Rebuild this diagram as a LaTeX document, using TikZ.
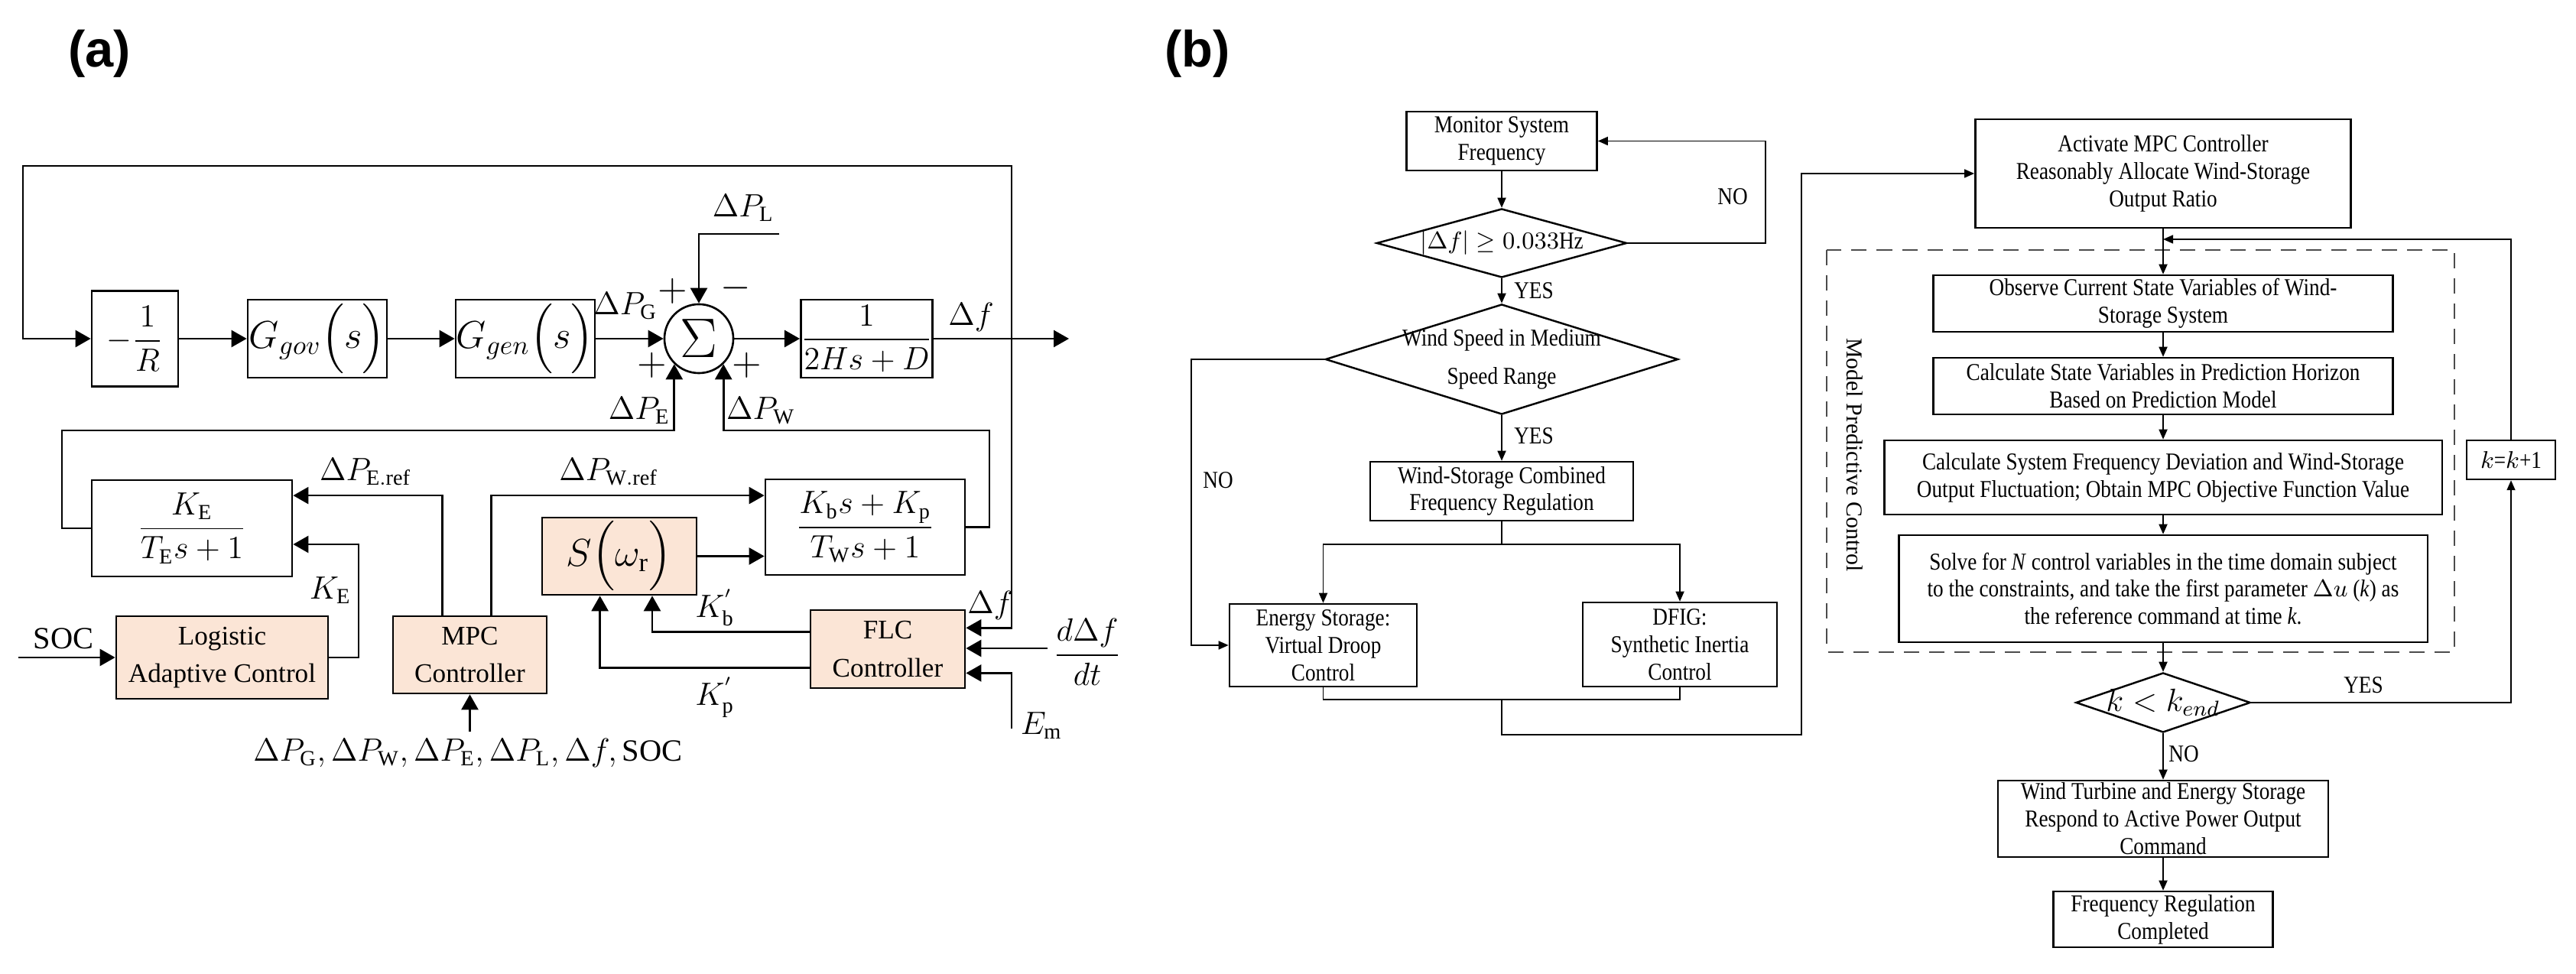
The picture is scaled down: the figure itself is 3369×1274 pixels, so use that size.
\documentclass[tikz,border=0pt]{standalone}
\usepackage{amsmath}
\usepackage{fontspec}
\setmainfont{Liberation Serif}
\newfontfamily\flowfont[FakeStretch=0.86]{Liberation Serif}
\newfontfamily\tagfont{Liberation Sans}
\usepackage{tikz}
\usetikzlibrary{arrows.meta,positioning,calc,shapes.geometric}
\definecolor{ctlfill}{HTML}{FBE5D6}

\begin{document}
\begin{tikzpicture}[x=0.01cm,y=-0.01cm,
  blk/.style={draw=black,line width=0.75pt,inner sep=0pt,align=center,font=\fontsize{12}{14}\selectfont},
  ctl/.style={blk,fill=ctlfill,font=\fontsize{10}{14}\selectfont},
  sig/.style={-{Triangle[length=2mm,width=2.2mm]},line width=0.75pt},
  lbl/.style={inner sep=0pt,font=\fontsize{11.5}{13}\selectfont},
  sgn/.style={inner sep=0pt,font=\fontsize{14}{16}\selectfont},
  tag/.style={inner sep=0pt,font=\tagfont\bfseries\fontsize{19}{22}\selectfont},
  ftxt/.style={inner sep=0pt,align=center,font=\flowfont\fontsize{9}{10.2}\selectfont},
  fbox/.style={ftxt,draw=black,line width=0.7pt},
  fdec/.style={draw=black,line width=0.7pt,diamond,inner sep=0pt},
  flow/.style={-{Triangle[length=1.3mm,width=1.1mm]},line width=0.5pt},
  fline/.style={line width=0.5pt},
  zone/.style={draw=black!70,line width=0.75pt,dash pattern=on 0.2cm off 0.13cm}]
\fill[white] (0,0) rectangle (3369,1274);
\useasboundingbox (0,0) rectangle (3369,1274);

\node[tag] (taga) at (130,70) {(a)};
\node[tag] (tagb) at (1566,70) {(b)};

% (a) load frequency loop
\node[blk,minimum width=1.13cm,minimum height=1.25cm] (droop) at (176.5,443) {$-\dfrac{1}{R}$};
\node[blk,minimum width=1.82cm,minimum height=1.02cm,font=\fontsize{14}{16}\selectfont] (gov) at (415,443) {$G_{gov}\Bigl(s\Bigr)$};
\node[blk,minimum width=1.82cm,minimum height=1.02cm,font=\fontsize{14}{16}\selectfont] (gen) at (687,443) {$G_{gen}\Bigl(s\Bigr)$};
\node[draw,circle,line width=0.75pt,minimum size=0.9cm,inner sep=0pt,font=\fontsize{20}{22}\selectfont] (sum) at (914,443) {$\Sigma$};
\node[blk,minimum width=1.65cm,minimum height=1.02cm] (plant) at (1133.5,443) {$\dfrac{1}{2Hs+D}$};
\coordinate (fout) at (1398,443);
\coordinate (ftap) at (1323,443);
\coordinate (ftop) at (30,217);
\coordinate (pload) at (1019,306);
\coordinate (ebus) at (81,563);
\coordinate (wbus) at (1294,563);

\node[blk,minimum width=2.62cm,minimum height=1.26cm] (ess) at (251,691) {$\dfrac{K_{\mathrm{E}}}{T_{\mathrm{E}}s+1}$};
\node[blk,minimum width=2.61cm,minimum height=1.25cm] (wtg) at (1131.5,689.5) {$\dfrac{K_{\mathrm{b}}s+K_{\mathrm{p}}}{T_{\mathrm{W}}s+1}$};
\node[ctl,minimum width=2.02cm,minimum height=1.01cm,font=\fontsize{14}{16}\selectfont] (swr) at (810,727.5) {$S\Bigl(\omega_{\mathrm{r}}\Bigr)$};
\node[ctl,minimum width=2.77cm,minimum height=1.08cm] (logi) at (290.5,860) {Logistic\\Adaptive Control};
\node[ctl,minimum width=2.01cm,minimum height=1.01cm] (mpc) at (614.5,856.5) {MPC\\Controller};
\node[ctl,minimum width=2.02cm,minimum height=1.02cm] (flc) at (1161,849) {FLC\\Controller};
\coordinate (socin) at (24,860);
\coordinate (kebend) at (469,712);
\coordinate (mpcin) at (614.5,957);
\coordinate (ddin) at (1370,848);
\coordinate (emin) at (1323,953);

\draw[sig] (droop.east) -- (gov.west);
\draw[sig] (gov.east) -- (gen.west);
\draw[sig] (gen.east) -- (sum.west);
\draw[sig] (sum.east) -- (plant.west);
\draw[sig] (plant.east) -- (fout);
\draw[sig] (ftap) |- (ftop) |- (droop.west);
\draw[sig] (ftap) |- ($(flc.north east)!0.235!(flc.south east)$);
\draw[sig] (pload) -| (sum.north);
\draw[sig] (ess.west) -| (ebus) -| (sum.226);
\draw[sig] (wtg.east) -| (wbus) -| (sum.314);
\draw[sig] (socin) -- (logi.west);
\draw[sig] (logi.east) -| (kebend) -- (kebend -| ess.east);
\draw[sig] ($(mpc.north west)!0.323!(mpc.north east)$) |- ($(ess.north east)!0.167!(ess.south east)$);
\draw[sig] ($(mpc.north west)!0.637!(mpc.north east)$) |- ($(wtg.north west)!0.176!(wtg.south west)$);
\draw[sig] (mpcin) -- (mpc.south);
\draw[sig] (swr.east) -- (swr.east -| wtg.west);
\draw[sig] ($(flc.north west)!0.284!(flc.south west)$) -| ($(swr.south west)!0.71!(swr.south east)$);
\draw[sig] ($(flc.north west)!0.735!(flc.south west)$) -| ($(swr.south west)!0.376!(swr.south east)$);
\draw[sig] (ddin) -- (ddin -| flc.east);
\draw[sig] (emin) |- ($(flc.north east)!0.8!(flc.south east)$);

\node[lbl] (lpg) at (818,400) {$\Delta P_{\mathrm{G}}$};
\node[lbl] (lpl) at (972,272) {$\Delta P_{\mathrm{L}}$};
\node[lbl] (lpe) at (836,537) {$\Delta P_{\mathrm{E}}$};
\node[lbl] (lpw) at (995,537) {$\Delta P_{\mathrm{W}}$};
\node[lbl] (ldf) at (1270,415) {$\Delta f$};
\node[lbl] (lper) at (478,617) {$\Delta P_{\mathrm{E.ref}}$};
\node[lbl] (lpwr) at (796,617) {$\Delta P_{\mathrm{W.ref}}$};
\node[lbl] (lke) at (432,772) {$K_{\mathrm{E}}$};
\node[lbl] (lsoc) at (83,835) {SOC};
\node[lbl] (lkb) at (935,795) {$K^{'}_{\mathrm{b}}$};
\node[lbl] (lkp) at (935,912) {$K^{'}_{\mathrm{p}}$};
\node[lbl] (ldf2) at (1295,792) {$\Delta f$};
\node[lbl] (ldd) at (1422,853) {$\dfrac{d\Delta f}{dt}$};
\node[lbl] (lem) at (1362,949) {$E_{\mathrm{m}}$};
\node[lbl] (lmpcin) at (612,985) {$\Delta P_{\mathrm{G}},\Delta P_{\mathrm{W}},\Delta P_{\mathrm{E}},\Delta P_{\mathrm{L}},\Delta f,\mathrm{SOC}$};
\node[sgn] (sg1) at (880,381) {$+$};
\node[sgn] (sg2) at (962,377) {$-$};
\node[sgn] (sg3) at (853,478) {$+$};
\node[sgn] (sg4) at (977,478) {$+$};

% (b) flow chart
\node[fbox,minimum width=2.49cm,minimum height=0.77cm] (monitor) at (1964,184.5) {Monitor System\\Frequency};
\node[fdec,minimum width=3.27cm,minimum height=0.9cm,label={[ftxt]center:{$\left|\Delta f\right|\geq 0.033$Hz}}] (dfcheck) at (1964,318) {};
\node[fdec,minimum width=4.61cm,minimum height=1.44cm,label={[ftxt]center:{Wind Speed in Medium\\[4pt]Speed Range}}] (speed) at (1964,470) {};
\node[fbox,minimum width=3.44cm,minimum height=0.77cm] (joint) at (1964,642.5) {Wind-Storage Combined\\Frequency Regulation};
\node[fbox,minimum width=2.45cm,minimum height=1.08cm] (droopctl) at (1730.5,844) {Energy Storage:\\Virtual Droop\\Control};
\node[fbox,minimum width=2.54cm,minimum height=1.1cm] (inertia) at (2197,843) {DFIG:\\Synthetic Inertia\\Control};
\coordinate (nobend) at (2309,184.5);
\coordinate (nobendl) at (1558,470);
\coordinate (split) at (1964,712);
\coordinate (merge) at (1964,915);
\coordinate (loop) at (2356,961);

\node[fbox,minimum width=4.91cm,minimum height=1.42cm] (activate) at (2829,227) {Activate MPC Controller\\Reasonably Allocate Wind-Storage\\Output Ratio};
\draw[zone] (2389,327) rectangle (3210,853);
\node[ftxt,rotate=-90] (mpclabel) at (2426,595) {\normalfont\fontsize{8.5}{10}\selectfont Model Predictive Control};
\node[fbox,minimum width=6.01cm,minimum height=0.74cm] (observe) at (2829,397) {Observe Current State Variables of Wind-\\Storage System};
\node[fbox,minimum width=6.01cm,minimum height=0.74cm] (predict) at (2829,505) {Calculate State Variables in Prediction Horizon\\Based on Prediction Model};
\node[fbox,minimum width=7.29cm,minimum height=0.97cm] (objective) at (2829,624.5) {Calculate System Frequency Deviation and Wind-Storage\\Output Fluctuation; Obtain MPC Objective Function Value};
\node[fbox,minimum width=6.91cm,minimum height=1.4cm] (solve) at (2829,770) {Solve for \textit{N} control variables in the time domain subject\\to the constraints, and take the first parameter $\Delta u$ (\textit{k}) as\\the reference command at time \textit{k}.};
\node[fdec,minimum width=2.28cm,minimum height=0.78cm,label={[ftxt,font=\fontsize{12}{14}\selectfont]center:{$k<k_{end}$}}] (horizon) at (2829,919) {};
\node[fbox,minimum width=4.32cm,minimum height=1.0cm] (respond) at (2829,1071) {Wind Turbine and Energy Storage\\Respond to Active Power Output\\Command};
\node[fbox,minimum width=2.87cm,minimum height=0.73cm] (done) at (2829,1202.5) {Frequency Regulation\\Completed};
\node[fbox,minimum width=1.16cm,minimum height=0.51cm] (kstep) at (3284,601.5) {$k$=$k$+1};
\coordinate (join) at (2829,313);

\draw[flow] (monitor) -- (dfcheck);
\draw[flow] (dfcheck) -- (speed);
\draw[flow] (dfcheck.east) -| (nobend) -- (monitor.east);
\draw[flow] (speed.west) -- (nobendl) |- (droopctl.west);
\draw[flow] (speed) -- (joint);
\draw[fline] (joint.south) -- (split);
\draw[flow] (split) -| (droopctl.north);
\draw[flow] (split) -| (inertia.north);
\draw[fline] (droopctl.south) |- (merge) -| (inertia.south);
\draw[flow] (merge) |- (loop) |- (activate.west);
\draw[flow] (activate) -- (observe);
\draw[flow] (kstep.north) |- (join);
\draw[flow] (observe) -- (predict);
\draw[flow] (predict) -- (objective);
\draw[flow] (objective) -- (solve);
\draw[flow] (solve) -- (horizon);
\draw[flow] (horizon) -- (respond);
\draw[flow] (respond) -- (done);
\draw[flow] (horizon.east) -| (kstep.south);

\node[ftxt] (yes1) at (2006,380) {YES};
\node[ftxt] (yes2) at (2006,570) {YES};
\node[ftxt] (no1) at (2266,257) {NO};
\node[ftxt] (no2) at (1593,628) {NO};
\node[ftxt] (yes3) at (3091,896) {YES};
\node[ftxt] (no3) at (2856,986) {NO};
\end{tikzpicture}
\end{document}
